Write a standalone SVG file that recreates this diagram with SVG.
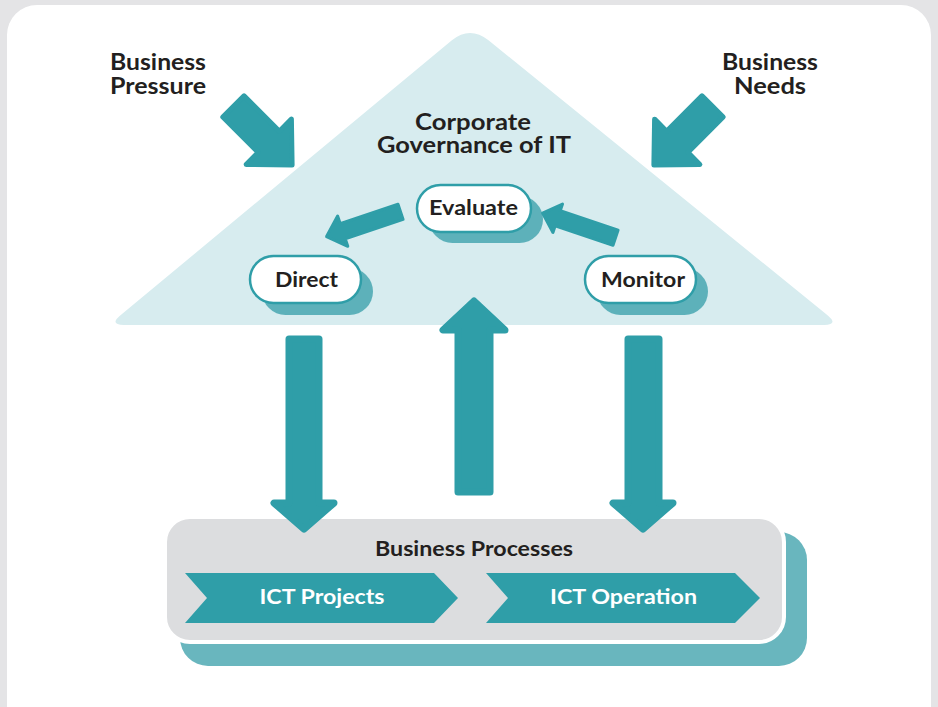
<svg xmlns="http://www.w3.org/2000/svg" width="938" height="707" viewBox="0 0 938 707">
<style>
.lbl{font-family:Lato,"Liberation Sans",sans-serif;font-weight:700;fill:#231f20}
.pill{fill:#ffffff;stroke:#2f9ea8;stroke-width:2.5}
.sh{fill:#5db1ba}
.teal{fill:#2f9ea8;stroke:#2f9ea8;stroke-linejoin:round}
.wt{font-family:Lato,"Liberation Sans",sans-serif;font-weight:700;fill:#ffffff}
</style>
<rect x="0" y="0" width="938" height="707" fill="#e4e4e6"/>
<rect x="7" y="5" width="924" height="740" rx="30" fill="#ffffff"/>
<g id="governance">
<path d="M122,314 L451.9,40.3 Q470,25.7 488.5,40.3 L826,314 Q840,325 824,325 L124,325 Q108,325 122,314 Z" fill="#d7ecef"/>
<text class="lbl" font-size="23" text-anchor="middle" x="473" y="130" textLength="116" lengthAdjust="spacingAndGlyphs">Corporate</text>
<text class="lbl" font-size="23" text-anchor="middle" x="474" y="153" textLength="194" lengthAdjust="spacingAndGlyphs">Governance of IT</text>
</g>
<g id="business-pressure">
<text class="lbl" font-size="23" x="110" y="70" textLength="96" lengthAdjust="spacingAndGlyphs">Business</text>
<text class="lbl" font-size="23" x="110" y="94" textLength="96" lengthAdjust="spacingAndGlyphs">Pressure</text>
</g>
<g id="business-needs">
<text class="lbl" font-size="23" text-anchor="middle" x="770" y="70" textLength="96" lengthAdjust="spacingAndGlyphs">Business</text>
<text class="lbl" font-size="23" text-anchor="middle" x="770" y="94" textLength="72" lengthAdjust="spacingAndGlyphs">Needs</text>
</g>
<g id="evaluate">
<rect class="sh" x="429" y="196" width="114" height="47" rx="23.5"/>
<rect class="pill" x="417" y="185" width="114" height="47" rx="23.5"/>
<text class="lbl" font-size="20" text-anchor="middle" x="473.5" y="215" textLength="89" lengthAdjust="spacingAndGlyphs">Evaluate</text>
</g>
<g id="direct">
<rect class="sh" x="262" y="268" width="111" height="47" rx="23.5"/>
<rect class="pill" x="250" y="256" width="111" height="47" rx="23.5"/>
<text class="lbl" font-size="20" text-anchor="middle" x="306.5" y="287" textLength="63" lengthAdjust="spacingAndGlyphs">Direct</text>
</g>
<g id="monitor">
<rect class="sh" x="597" y="268" width="111" height="47" rx="23.5"/>
<rect class="pill" x="585" y="256" width="111" height="47" rx="23.5"/>
<text class="lbl" font-size="20" text-anchor="middle" x="643" y="287" textLength="84" lengthAdjust="spacingAndGlyphs">Monitor</text>
</g>
<g id="business-processes">
<rect x="180" y="532" width="627" height="134" rx="28" fill="#69b6be"/>
<rect x="165" y="517" width="619" height="125" rx="25" fill="#dcdddf" stroke="#ffffff" stroke-width="4"/>
<text class="lbl" font-size="21" text-anchor="middle" x="474" y="556" textLength="198" lengthAdjust="spacingAndGlyphs">Business Processes</text>
</g>
<g id="ict-projects">
<polygon points="185,573 434,573 458,598 434,623 185,623 207,598" fill="#2f9ea8"/>
<text class="wt" font-size="21.5" text-anchor="middle" x="322" y="604" textLength="125" lengthAdjust="spacingAndGlyphs">ICT Projects</text>
</g>
<g id="ict-operation">
<polygon points="486,573 735,573 760,598 735,623 486,623 508,598" fill="#2f9ea8"/>
<text class="wt" font-size="21.5" text-anchor="middle" x="623.5" y="604" textLength="147" lengthAdjust="spacingAndGlyphs">ICT Operation</text>
</g>
<g id="connectors">
<path class="teal" stroke-width="5" transform="translate(232,105) rotate(45)" d="M2,-15 L52,-15 L52,-32 L85,0 L52,32 L52,15 L2,15 Z"/>
<path class="teal" stroke-width="5" transform="translate(714,105) rotate(135)" d="M2,-15 L52,-15 L52,-32 L85,0 L52,32 L52,15 L2,15 Z"/>
<path class="teal" stroke-width="3" transform="translate(401.5,211.5) rotate(161.5)" d="M1,-8 L62,-8 L62,-16 L79,0 L62,16 L62,8 L1,8 Z"/>
<path class="teal" stroke-width="3" transform="translate(616.5,238) rotate(198.6)" d="M1,-8 L62,-8 L62,-15 L78,0 L62,15 L62,8 L1,8 Z"/>
<path class="teal" stroke-width="7" d="M289,339 L319,339 L319,503 L334,503 L304,529 L274,503 L289,503 Z"/>
<path class="teal" stroke-width="7" d="M458,492 L490,492 L490,330 L505,330 L474,301 L443,330 L458,330 Z"/>
<path class="teal" stroke-width="7" d="M628,339 L659,339 L659,503 L673,503 L643,529 L613,503 L628,503 Z"/>
</g>
</svg>
